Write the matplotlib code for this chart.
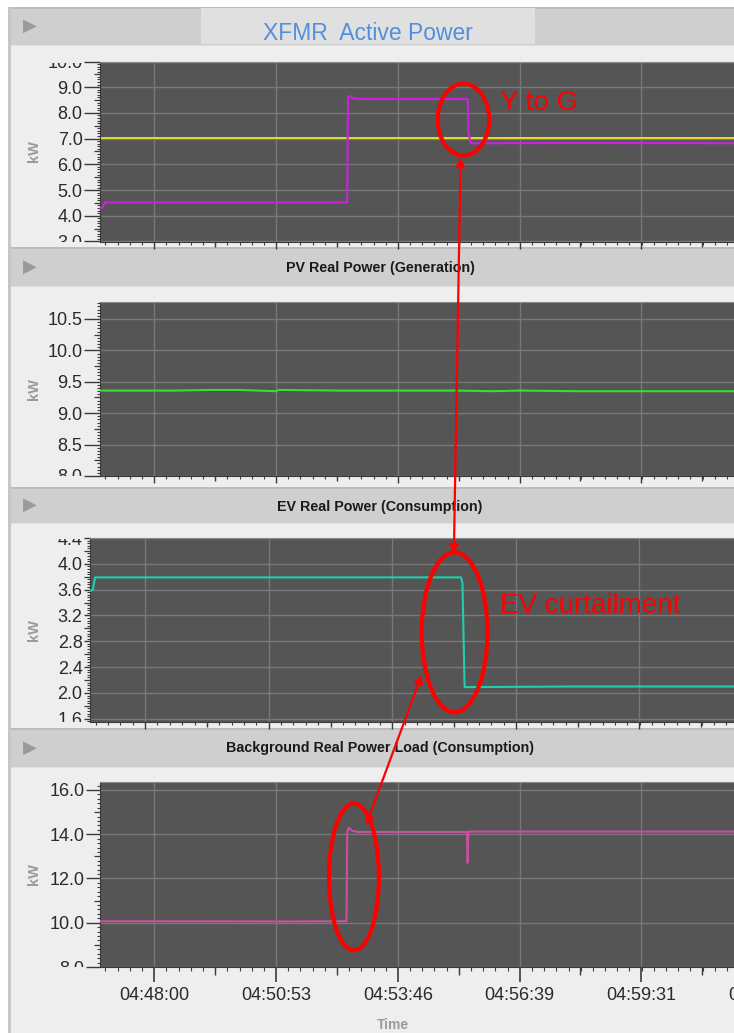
import matplotlib
matplotlib.use("Agg")
import matplotlib.pyplot as plt
from matplotlib.patches import Rectangle, Ellipse, ConnectionPatch
from matplotlib.ticker import FixedLocator, AutoMinorLocator, FormatStrFormatter
from matplotlib.transforms import Bbox, TransformedBbox

W, H = 734, 1033
PT = 0.72  # points per pixel at dpi 100

# time axis, seconds after 04:48:00
time_ticks = [0, 173, 346, 519, 691, 864]
time_labels = ["04:48:00", "04:50:53", "04:53:46", "04:56:39", "04:59:31", "05:02:24"]
t_min, t_max = -77, 870

titles = ["XFMR  Active Power", "PV Real Power (Generation)",
          "EV Real Power (Consumption)", "Background Real Power Load (Consumption)"]

xfmr_t = [-77, -73, -70, 274, 275, 277, 283, 295, 445, 446, 449, 600, 870]
xfmr_kw = [4.30, 4.33, 4.52, 4.52, 8.60, 8.66, 8.56, 8.54, 8.54, 7.30, 6.82, 6.83, 6.82]
limit_kw = 7.02

pv_t = [-77, 30, 80, 120, 173, 176, 260, 330, 430, 480, 520, 600, 700, 870]
pv_kw = [9.36, 9.36, 9.37, 9.37, 9.35, 9.37, 9.36, 9.36, 9.36, 9.35, 9.36, 9.35, 9.35, 9.35]

ev_t = [-77, -73, -70, 442, 444, 447, 600, 870]
ev_kw = [3.58, 3.60, 3.79, 3.79, 3.70, 2.09, 2.10, 2.10]

bg_t = [-77, 200, 273, 274, 276, 281, 290, 444, 445, 446, 870]
bg_kw = [10.07, 10.06, 10.07, 14.10, 14.29, 14.15, 14.10, 14.10, 12.70, 14.12, 14.12]

ylims = [(3.0, 10.0), (8.0, 10.77), (1.55, 4.40), (8.0, 16.36)]
yticks = [[3.0, 4.0, 5.0, 6.0, 7.0, 8.0, 9.0, 10.0],
          [8.0, 8.5, 9.0, 9.5, 10.0, 10.5],
          [1.6, 2.0, 2.4, 2.8, 3.2, 3.6, 4.0, 4.4],
          [8.0, 10.0, 12.0, 14.0, 16.0]]

# panel geometry in pixels: axes left, top, bottom / header top, bottom / body bottom
axes_px = [(100, 61.5, 241.5), (100, 302, 476), (90, 538, 722), (100, 782, 967)]
axes_right = 767   # plots run past the right edge of the picture
header_px = [(7, 45), (247, 286), (487, 523), (728, 767)]
body_end = [247, 487, 728, 1033]
title_y = [34, 268, 507, 748]
tick_len = [16, 16, 6, 14]   # y major tick length, px

fig = plt.figure(figsize=(W / 100, H / 100), dpi=100)
fig.patch.set_facecolor("white")


def rect(x0, y0, x1, y1, color):
    fig.add_artist(Rectangle((x0 / W, 1 - y1 / H), (x1 - x0) / W, (y1 - y0) / H,
                             transform=fig.transFigure, facecolor=color,
                             edgecolor="none", zorder=-10))


rect(8, 7, 10.5, H, "#c6c6c6")
for i in range(4):
    h0, h1 = header_px[i]
    rect(10.5, h0, W, h1, "#cfcfcf")
    rect(10.5, h0, W, h0 + 1.5, "#bcbcbc")
    rect(10.5, h1, W, body_end[i], "#eeeeee")
    rect(10.5, h1, W, h1 + 1, "#e0e0e0")
    fig.text(30 / W, 1 - (h0 + h1) / 2 / H, "\u25B6", color="#9a9a9a", fontsize=13,
             ha="center", va="center", family="DejaVu Sans")
rect(201, 8.5, 535, 44, "#e0e0e0")

fig.text(368 / W, 1 - title_y[0] / H, titles[0], color="#5090dc", fontsize=16.5,
         ha="center", va="center", family="Liberation Sans")
for i in range(1, 4):
    fig.text(380 / W, 1 - title_y[i] / H, titles[i], color="#1a1a1a", fontsize=10.3,
             fontweight="bold", ha="center", va="center", family="Liberation Sans")

series = [(xfmr_t, xfmr_kw, "#cc22e0"), (pv_t, pv_kw, "#35e035"),
          (ev_t, ev_kw, "#1fcfae"), (bg_t, bg_kw, "#c8509e")]

axes = []
for i in range(4):
    left, top, bottom = axes_px[i]
    right = axes_right
    ax = fig.add_axes([left / W, 1 - bottom / H, (right - left) / W, (bottom - top) / H])
    ax.set_facecolor("#555555")
    t, kw, col = series[i]
    ax.plot(t, kw, color=col, lw=1.5, zorder=3)
    if i == 0:
        ax.axhline(limit_kw, color="#f5f526", lw=1.2, zorder=2)
    ax.set_xlim(t_min, t_max)
    ax.set_ylim(*ylims[i])

    ax.xaxis.set_major_locator(FixedLocator(time_ticks))
    ax.xaxis.set_minor_locator(AutoMinorLocator(10))
    ax.yaxis.set_major_locator(FixedLocator(yticks[i]))
    ax.yaxis.set_minor_locator(AutoMinorLocator(10))
    ax.yaxis.set_major_formatter(FormatStrFormatter("%.1f"))
    ax.grid(True, which="major", color="#787878", lw=1)
    ax.set_axisbelow(True)

    ax.spines["right"].set_visible(False)
    ax.spines["top"].set_color("#8a8a8a")
    ax.spines["left"].set_color("#3a3a3a")
    ax.spines["bottom"].set_color("#3a3a3a")

    ax.tick_params(axis="y", which="major", length=tick_len[i] * PT, width=1, color="#3a3a3a",
                   pad=1, labelsize=13, labelcolor="#2a2a2a")
    ax.tick_params(axis="y", which="minor", length=3 * PT, width=0.8, color="#3a3a3a")
    for lab in ax.get_yticklabels():
        lab.set_family("Liberation Sans")

    if i == 3:
        ax.set_xticklabels(time_labels)
        ax.tick_params(axis="x", which="major", length=15 * PT, width=1.2, color="#3a3a3a",
                       pad=5 * PT, labelsize=13, labelcolor="#2a2a2a")
        ax.tick_params(axis="x", which="minor", length=4 * PT, width=0.8, color="#3a3a3a")
        for lab in ax.get_xticklabels():
            lab.set_family("Liberation Sans")
        mid_len = 8
    else:
        ax.tick_params(axis="x", which="major", length=7 * PT, width=1, color="#3a3a3a",
                       labelbottom=False)
        ax.tick_params(axis="x", which="minor", length=3 * PT, width=0.8, color="#3a3a3a")
        mid_len = 5

    # half-interval ticks
    secx = ax.secondary_xaxis("bottom")
    secx.set_xticks([a + (b - a) / 2 for a, b in zip(time_ticks[:-1], time_ticks[1:])])
    secx.tick_params(length=mid_len * PT, width=1, color="#3a3a3a", labelbottom=False)
    secx.spines["bottom"].set_visible(False)
    yt = yticks[i]
    secy = ax.secondary_yaxis("left")
    secy.set_yticks([a + (b - a) / 2 for a, b in zip(yt[:-1], yt[1:])])
    secy.tick_params(length=6 * PT, width=0.9, color="#3a3a3a", labelleft=False)
    secy.spines["left"].set_visible(False)

    ax.set_ylabel("kW", color="#9a9a9a", fontsize=10.5, fontweight="bold",
                  family="Liberation Sans")
    ax.yaxis.set_label_coords((41 - left) / (right - left), 0.5)
    axes.append(ax)

fig.text(393 / W, 1 - 1025 / H, "Time", color="#9a9a9a", fontsize=10, fontweight="bold",
         ha="center", va="center", family="Liberation Sans")

ax1, ax2, ax3, ax4 = axes

# annotations
red = "#ff0000"
for ax, c, w, h in [(ax1, (439, 7.74), 73, 2.8),
                    (ax3, (433, 2.94), 92, 2.48),
                    (ax4, (283.5, 12.07), 71, 6.64)]:
    ax.add_patch(Ellipse(c, w, h, fill=False, edgecolor=red, lw=3.0, clip_on=False, zorder=8))

ax1.text(491, 8.37, "Y to G", color=red, fontsize=20, va="center", ha="left",
         family="Liberation Sans", zorder=9)
ax3.text(496, 3.34, "EV curtailment", color=red, fontsize=20, va="center", ha="left",
         family="Liberation Sans", zorder=9)

arr1 = ConnectionPatch((435, 6.27), (432, 4.16), coordsA=ax1.transData, coordsB=ax3.transData,
                       arrowstyle="<|-|>", color=red, lw=1.6, mutation_scale=13, zorder=10)
arr2 = ConnectionPatch((387, 2.28), (300.6, 14.42), coordsA=ax3.transData, coordsB=ax4.transData,
                       arrowstyle="<|-|>", color=red, lw=1.6, mutation_scale=13, zorder=10)
fig.add_artist(arr1)
fig.add_artist(arr2)

# clip tick labels to the plot height, as the reference does
fig.canvas.draw()
for i, ax in enumerate(axes):
    left, top, bottom = axes_px[i]
    box = TransformedBbox(Bbox([[0, 1 - bottom / H], [1, 1 - (top + 1) / H]]), fig.transFigure)
    for tk in ax.yaxis.get_major_ticks():
        tk.label1.set_clip_box(box)
        tk.label1.set_clip_on(True)

fig.savefig("out.png", dpi=100)
